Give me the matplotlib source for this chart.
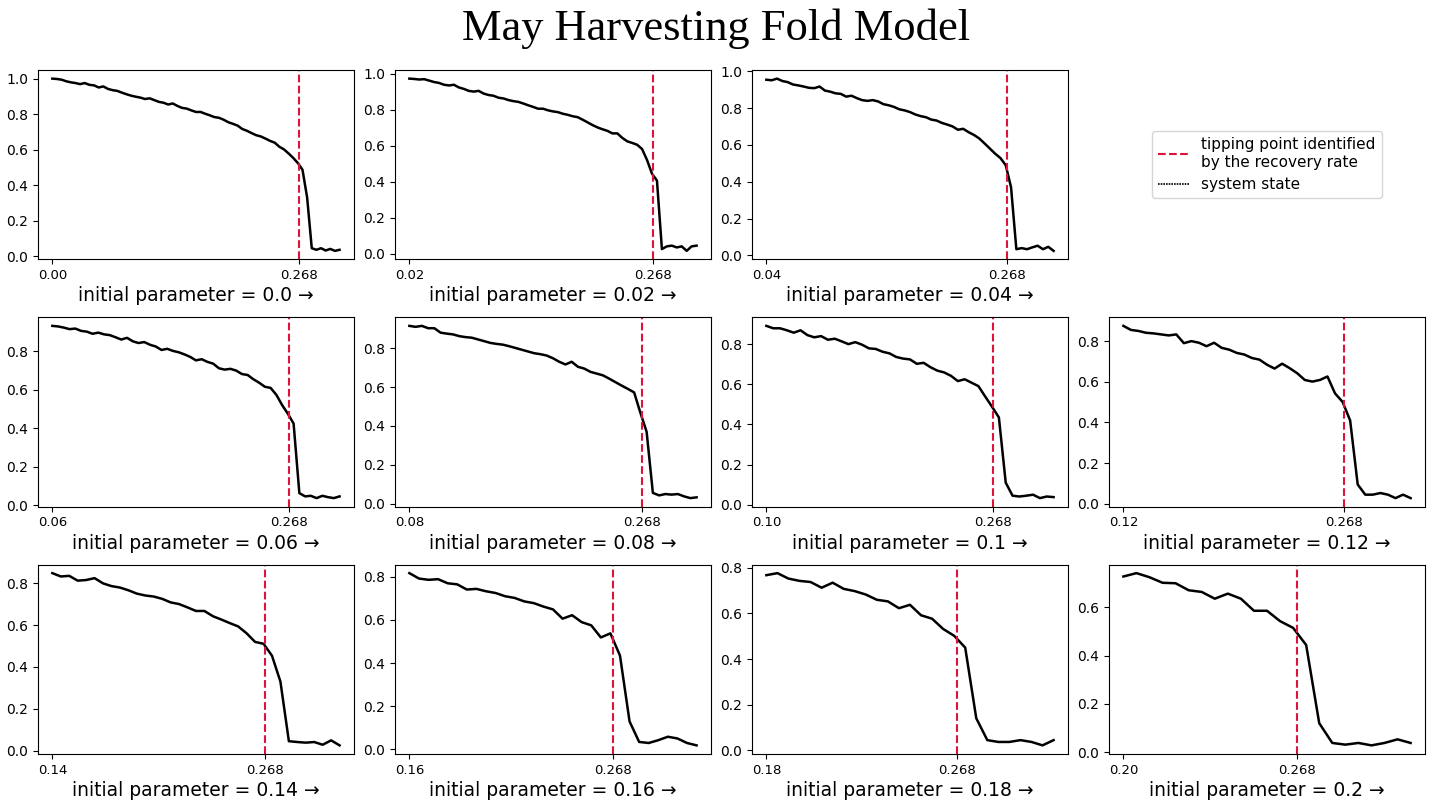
import numpy as np
import matplotlib.pyplot as plt
from matplotlib.lines import Line2D

# initial parameter of each run, tipping point found by the recovery rate
initial_params = [0.0, 0.02, 0.04, 0.06, 0.08, 0.1, 0.12, 0.14, 0.16, 0.18, 0.2]
tipping_point = 0.268
end_param = 0.3125

# system state (evenly spaced from initial param to end_param)
state_000 = [1.000, 0.998, 0.994, 0.985, 0.979, 0.975, 0.969, 0.975, 0.965, 0.962,
             0.950, 0.956, 0.942, 0.935, 0.931, 0.921, 0.912, 0.904, 0.898, 0.893,
             0.885, 0.889, 0.879, 0.869, 0.864, 0.854, 0.860, 0.846, 0.835, 0.831,
             0.821, 0.812, 0.812, 0.802, 0.793, 0.783, 0.779, 0.768, 0.754, 0.745,
             0.735, 0.716, 0.706, 0.693, 0.681, 0.674, 0.662, 0.649, 0.639, 0.616,
             0.601, 0.578, 0.553, 0.524, 0.486, 0.330, 0.044, 0.035, 0.044, 0.031,
             0.040, 0.029, 0.035]
state_002 = [0.973, 0.971, 0.968, 0.970, 0.962, 0.954, 0.949, 0.939, 0.935, 0.939,
             0.924, 0.916, 0.905, 0.901, 0.905, 0.890, 0.882, 0.878, 0.867, 0.863,
             0.854, 0.848, 0.844, 0.835, 0.825, 0.816, 0.806, 0.806, 0.797, 0.791,
             0.787, 0.778, 0.772, 0.764, 0.759, 0.745, 0.730, 0.715, 0.702, 0.692,
             0.683, 0.669, 0.669, 0.644, 0.625, 0.616, 0.606, 0.582, 0.521, 0.445,
             0.407, 0.027, 0.042, 0.046, 0.036, 0.042, 0.017, 0.042, 0.046]
state_004 = [0.955, 0.952, 0.961, 0.948, 0.942, 0.929, 0.924, 0.918, 0.911, 0.909,
             0.918, 0.896, 0.890, 0.881, 0.878, 0.863, 0.868, 0.855, 0.844, 0.840,
             0.844, 0.837, 0.822, 0.816, 0.807, 0.794, 0.788, 0.779, 0.766, 0.757,
             0.751, 0.738, 0.733, 0.720, 0.711, 0.701, 0.683, 0.688, 0.670, 0.655,
             0.636, 0.609, 0.581, 0.553, 0.529, 0.490, 0.370, 0.033, 0.039, 0.033,
             0.043, 0.052, 0.033, 0.046, 0.024]
state_006 = [0.932, 0.929, 0.923, 0.915, 0.918, 0.906, 0.902, 0.891, 0.897, 0.888,
             0.884, 0.873, 0.861, 0.870, 0.852, 0.843, 0.848, 0.834, 0.825, 0.807,
             0.813, 0.802, 0.795, 0.784, 0.771, 0.753, 0.759, 0.745, 0.736, 0.712,
             0.705, 0.709, 0.700, 0.682, 0.677, 0.655, 0.637, 0.616, 0.610, 0.574,
             0.521, 0.476, 0.425, 0.064, 0.047, 0.050, 0.038, 0.050, 0.043, 0.038,
             0.047]
state_008 = [0.916, 0.911, 0.916, 0.904, 0.904, 0.881, 0.876, 0.872, 0.863, 0.858,
             0.855, 0.846, 0.837, 0.828, 0.823, 0.819, 0.811, 0.802, 0.793, 0.784,
             0.775, 0.770, 0.763, 0.749, 0.731, 0.717, 0.731, 0.705, 0.696, 0.679,
             0.670, 0.661, 0.644, 0.626, 0.608, 0.591, 0.573, 0.468, 0.370, 0.055,
             0.042, 0.049, 0.046, 0.049, 0.037, 0.028, 0.032]
state_010 = [0.891, 0.879, 0.879, 0.869, 0.857, 0.869, 0.845, 0.834, 0.840, 0.822,
             0.827, 0.814, 0.800, 0.810, 0.797, 0.779, 0.776, 0.762, 0.754, 0.736,
             0.728, 0.724, 0.702, 0.707, 0.685, 0.668, 0.659, 0.642, 0.616, 0.625,
             0.608, 0.591, 0.539, 0.488, 0.435, 0.110, 0.045, 0.041, 0.045, 0.050,
             0.033, 0.041, 0.038]
state_012 = [0.875, 0.855, 0.850, 0.841, 0.838, 0.833, 0.828, 0.833, 0.790, 0.800,
             0.792, 0.775, 0.792, 0.767, 0.758, 0.742, 0.734, 0.717, 0.709, 0.684,
             0.665, 0.689, 0.667, 0.642, 0.609, 0.601, 0.609, 0.626, 0.543, 0.501,
             0.410, 0.095, 0.045, 0.045, 0.053, 0.045, 0.028, 0.045, 0.028]
state_014 = [0.849, 0.833, 0.836, 0.813, 0.816, 0.825, 0.800, 0.787, 0.780, 0.767,
             0.751, 0.742, 0.737, 0.726, 0.709, 0.701, 0.685, 0.668, 0.668, 0.643,
             0.627, 0.610, 0.594, 0.561, 0.520, 0.511, 0.454, 0.330, 0.045, 0.041,
             0.038, 0.041, 0.028, 0.049, 0.025]
state_016 = [0.817, 0.792, 0.786, 0.789, 0.770, 0.765, 0.741, 0.744, 0.733, 0.725,
             0.710, 0.702, 0.686, 0.678, 0.662, 0.649, 0.606, 0.622, 0.590, 0.575,
             0.519, 0.538, 0.435, 0.130, 0.035, 0.030, 0.043, 0.059, 0.051, 0.030,
             0.019]
state_018 = [0.768, 0.777, 0.753, 0.743, 0.738, 0.713, 0.735, 0.708, 0.698, 0.683,
             0.660, 0.653, 0.623, 0.638, 0.592, 0.577, 0.532, 0.502, 0.450, 0.140,
             0.044, 0.036, 0.036, 0.044, 0.036, 0.021, 0.044]
state_020 = [0.728, 0.742, 0.725, 0.702, 0.700, 0.671, 0.664, 0.636, 0.657, 0.636,
             0.586, 0.586, 0.543, 0.515, 0.444, 0.120, 0.038, 0.031, 0.038, 0.028,
             0.038, 0.053, 0.038]

states = [state_000, state_002, state_004, state_006, state_008, state_010,
          state_012, state_014, state_016, state_018, state_020]

# panel slots on the 3x4 grid (slot 3 holds the legend)
slots = [0, 1, 2, 4, 5, 6, 7, 8, 9, 10, 11]

fig, axes = plt.subplots(3, 4, figsize=(14.33, 8.01), dpi=100)
fig.subplots_adjust(left=0.0265, right=0.9944, top=0.9126, bottom=0.0587,
                    wspace=0.13, hspace=0.305)
axes = axes.ravel()

for p0, y, slot in zip(initial_params, states, slots):
    ax = axes[slot]
    x = np.linspace(p0, end_param, len(y))
    ax.plot(x, y, color='black', lw=1.8)
    ax.axvline(tipping_point, color='crimson', ls='--', lw=1.5)
    ax.set_xticks([p0, tipping_point])
    ax.set_xticklabels([f'{p0:.2f}', '0.268'], fontsize=9.5)
    ax.tick_params(axis='y', labelsize=10)
    ax.set_xlabel(f'initial parameter = {p0} →', fontsize=13.5, labelpad=3)

leg_ax = axes[3]
leg_ax.axis('off')
handles = [Line2D([], [], color='crimson', ls='--', lw=1.5),
           Line2D([], [], color='black', ls=(0, (1, 0.6)), lw=1.2)]
leg_ax.legend(handles, ['tipping point identified\nby the recovery rate', 'system state'],
              loc='center', fontsize=11)

fig.suptitle('May Harvesting Fold Model', fontsize=32, family='Liberation Serif', y=0.99)

plt.savefig('out.png')
